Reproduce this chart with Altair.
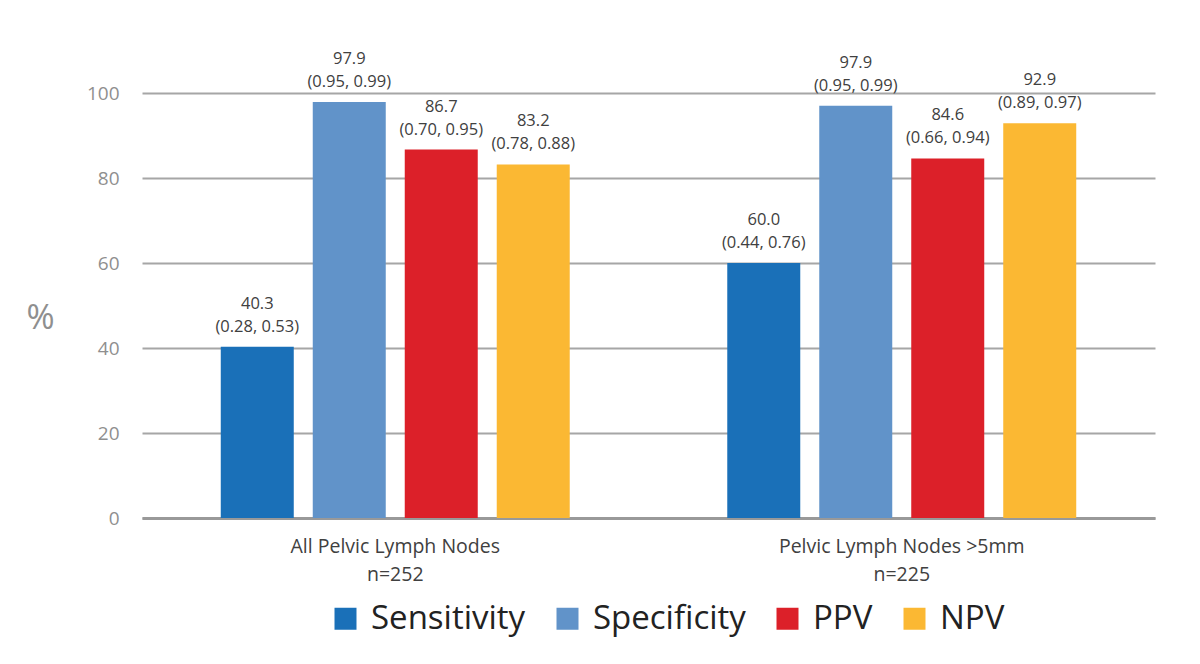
import altair as alt
import pandas as pd

groups = ["All Pelvic Lymph Nodes|n=252", "Pelvic Lymph Nodes >5mm|n=225"]
metrics = ["Sensitivity", "Specificity", "PPV", "NPV"]
colors = ["#1a70b8", "#6193c9", "#dc2029", "#fbb833"]

values_all = [40.3, 97.9, 86.7, 83.2]
values_gt5 = [60.0, 97.0, 84.6, 92.9]
point_all = ["40.3", "97.9", "86.7", "83.2"]
point_gt5 = ["60.0", "97.9", "84.6", "92.9"]
ci_all = ["(0.28, 0.53)", "(0.95, 0.99)", "(0.70, 0.95)", "(0.78, 0.88)"]
ci_gt5 = ["(0.44, 0.76)", "(0.95, 0.99)", "(0.66, 0.94)", "(0.89, 0.97)"]

rows = []
for g, vals, pts, cis in [(groups[0], values_all, point_all, ci_all),
                          (groups[1], values_gt5, point_gt5, ci_gt5)]:
    for m, v, p, c in zip(metrics, vals, pts, cis):
        rows.append({"group": g, "metric": m, "value": v, "point": p, "ci": c})
df = pd.DataFrame(rows)

x = alt.X("group:N", sort=groups, title=None,
          scale=alt.Scale(paddingInner=0.2735, paddingOuter=0.13675),
          axis=alt.Axis(labelExpr="split(datum.label, '|')", labelAngle=0,
                        labelFontSize=19.5, labelColor="#404040", labelFont="Open Sans",
                        labelPadding=19, labelLineHeight=28, ticks=False, labelLimit=500,
                        domainColor="#999999", domainWidth=3, labelBaseline="top"))
xo = alt.XOffset("metric:N", sort=metrics,
                 scale=alt.Scale(paddingInner=0.2065, paddingOuter=0.10325))
y = alt.Y("value:Q", scale=alt.Scale(domain=[0, 100]), title="%",
          axis=alt.Axis(values=[0, 20, 40, 60, 80, 100], labelFontSize=19,
                        labelColor="#8f8f8f", labelFont="Open Sans", labelPadding=23,
                        ticks=False, domain=False, gridColor="#a6a6a6", gridWidth=2,
                        titleAngle=0, titleX=-102, titleY=225, titleAlign="center",
                        titleBaseline="middle", titleFontSize=34, titleColor="#8f8f8f",
                        titleFont="Open Sans", titleFontWeight="normal"))

bars = alt.Chart(df).mark_bar().encode(
    x=x, xOffset=xo, y=y,
    color=alt.Color("metric:N", sort=metrics,
                    scale=alt.Scale(domain=metrics, range=colors),
                    legend=alt.Legend(title=None, orient="none", direction="horizontal",
                                      legendX=187, legendY=509, columns=4,
                                      symbolType="square", symbolSize=484,
                                      symbolStrokeWidth=0, symbolOpacity=1,
                                      labelFontSize=33, labelFont="Open Sans",
                                      labelColor="#222222", labelOffset=9,
                                      columnPadding=25, labelLimit=400))
)

base_text = alt.Chart(df).encode(
    x=alt.X("group:N", sort=groups), xOffset=alt.XOffset("metric:N", sort=metrics),
    y="value:Q")
ci_text = base_text.mark_text(baseline="bottom", dy=-12, fontSize=16.5,
                              font="Open Sans", color="#404040").encode(text="ci:N")
pt_text = base_text.mark_text(baseline="bottom", dy=-35, fontSize=16.5,
                              font="Open Sans", color="#404040").encode(text="point:N")

chart = alt.layer(bars, ci_text, pt_text).properties(
    width=1013, height=425,
    padding={"left": 142, "top": 93, "right": 45, "bottom": 146},
    autosize=alt.AutoSizeParams(type="none"),
).configure(background="white").configure_view(stroke=None)

chart.save("out.html", embed_options={"renderer": "svg", "actions": False})
